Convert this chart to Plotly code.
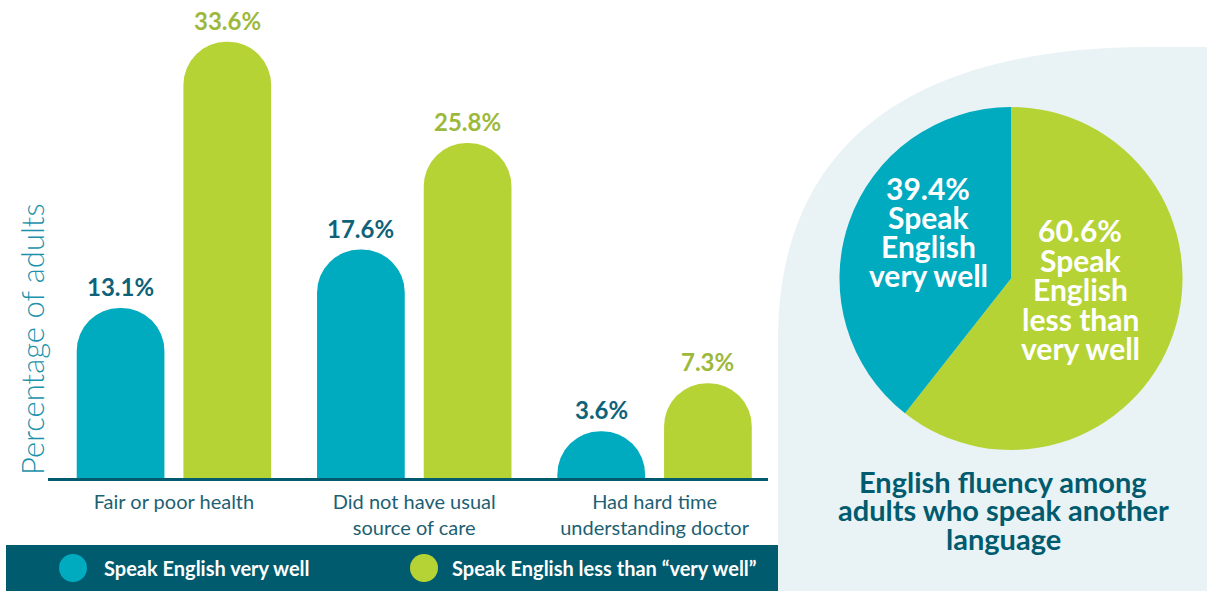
import plotly.graph_objects as go
import numpy as np

# ---------------- data ----------------
categories = ["Fair or poor health",
              "Did not have usual<br>source of care",
              "Had hard time<br>understanding doctor"]
series_names = ["Speak English very well", "Speak English less than \u201cvery well\u201d"]
very_well = [13.1, 17.6, 3.6]
less_than = [33.6, 25.8, 7.3]

pie_labels = ["Speak English less than very well", "Speak English very well"]
pie_values = [60.6, 39.4]
pie_text_lines = [["Speak", "English", "less than", "very well"],
                  ["Speak", "English", "very well"]]
pie_title_lines = ["English fluency among", "adults who speak another", "language"]
y_title = "Percentage of adults"

# ---------------- styles ----------------
W, H = 1207, 591
BLUE = "#00AABF"
GREEN = "#B5D334"
DARK = "#005B6E"
LABEL_DARK = "#0E6279"
LABEL_GREEN = "#9DB93B"
AXIS_TITLE = "#1B92AB"
TICK = "#1E5F73"
PANEL = "#E9F2F5"
FONT = "Lato"


def X(px):
    return px / W


def Y(py):
    return 1 - py / H


idx = np.arange(len(categories))
OFF = 0.222
BW = 0.365
x_blue = idx - OFF
x_green = idx + OFF

fig = go.Figure()
fig.add_trace(go.Bar(x=x_blue, y=very_well, width=BW, name=series_names[0],
                     marker=dict(color=BLUE, cornerradius="50%", line=dict(width=0)),
                     showlegend=False, hoverinfo="y"))
fig.add_trace(go.Bar(x=x_green, y=less_than, width=BW, name=series_names[1],
                     marker=dict(color=GREEN, cornerradius="50%", line=dict(width=0)),
                     showlegend=False, hoverinfo="y"))

annotations = []
for xs, vals, col in [(x_blue, very_well, LABEL_DARK), (x_green, less_than, LABEL_GREEN)]:
    for xv, v in zip(xs, vals):
        annotations.append(dict(x=xv, y=v, xref="x", yref="y", text=f"<b>{v:.1f}%</b>",
                                showarrow=False, yanchor="bottom", yshift=5,
                                font=dict(family=FONT, size=24, color=col)))

# pie
fig.add_trace(go.Pie(labels=pie_labels, values=pie_values, sort=False,
                     direction="clockwise", rotation=0,
                     marker=dict(colors=[GREEN, BLUE], line=dict(width=0)),
                     textinfo="none", showlegend=False,
                     domain=dict(x=[X(839), X(1183)], y=[Y(450), Y(107)])))

# pie labels (tight line spacing -> one annotation per line)
green_lines = [f"{pie_values[0]:.1f}%"] + pie_text_lines[0]
blue_lines = [f"{pie_values[1]:.1f}%"] + pie_text_lines[1]
for i, t in enumerate(blue_lines):
    annotations.append(dict(x=X(928), y=Y(188 + 29 * i), xref="paper", yref="paper",
                            text=f"<b>{t}</b>", showarrow=False,
                            xanchor="center", yanchor="middle",
                            font=dict(family=FONT, size=30, color="white")))
for i, t in enumerate(green_lines):
    annotations.append(dict(x=X(1080), y=Y(230 + 29.5 * i), xref="paper", yref="paper",
                            text=f"<b>{t}</b>", showarrow=False,
                            xanchor="center", yanchor="middle",
                            font=dict(family=FONT, size=30, color="white")))
for i, t in enumerate(pie_title_lines):
    annotations.append(dict(x=X(1003), y=Y(481 + 28.5 * i), xref="paper", yref="paper",
                            text=f"<b>{t}</b>", showarrow=False,
                            xanchor="center", yanchor="middle",
                            font=dict(family=FONT, size=29, color=DARK)))

# y-axis title
annotations.append(dict(x=X(32), y=Y(339), xref="paper", yref="paper", text=y_title,
                        textangle=-90, showarrow=False, xanchor="center", yanchor="middle",
                        font=dict(family=FONT, size=31, color=AXIS_TITLE, weight=300)))

# legend
legend_items = [(73, 102, BLUE, series_names[0]), (424, 450, GREEN, series_names[1])]
shapes = []
# background panel with rounded top-left corner
path = (f"M {X(778)},{Y(591)} L {X(778)},{Y(340)} "
        f"C {X(778)},{Y(130)} {X(930)},{Y(47)} {X(1150)},{Y(47)} "
        f"L {X(1207)},{Y(47)} L {X(1207)},{Y(591)} Z")
shapes.append(dict(type="path", path=path, xref="paper", yref="paper",
                   fillcolor=PANEL, line=dict(width=0), layer="below"))
shapes.append(dict(type="rect", x0=X(6), x1=X(778), y0=Y(591), y1=Y(545),
                   xref="paper", yref="paper", fillcolor=DARK, line=dict(width=0), layer="below"))
for cx, tx, col, name in legend_items:
    r = 14
    shapes.append(dict(type="circle", x0=X(cx - r), x1=X(cx + r), y0=Y(568 + r), y1=Y(568 - r),
                       xref="paper", yref="paper", fillcolor=col, line=dict(width=0)))
    annotations.append(dict(x=X(tx), y=Y(568), xref="paper", yref="paper", text=f"<b>{name}</b>",
                            showarrow=False, xanchor="left", yanchor="middle",
                            font=dict(family=FONT, size=20, color="white")))

fig.update_layout(
    width=W, height=H,
    margin=dict(l=0, r=0, t=0, b=0),
    paper_bgcolor="white",
    plot_bgcolor="rgba(0,0,0,0)",
    barmode="overlay",
    xaxis=dict(domain=[X(48), X(768)], range=[-0.524, 2.472],
               tickvals=list(idx), ticktext=categories,
               showline=True, linecolor=DARK, linewidth=3,
               showgrid=False, zeroline=False, ticks="",
               ticklabelstandoff=4,
               tickfont=dict(family=FONT, size=20, color=TICK)),
    yaxis=dict(domain=[Y(478), Y(10.7)], range=[0, 36], visible=False, showgrid=False),
    annotations=annotations,
    shapes=shapes,
    hovermode=False,
)

fig.write_html("out.html",
               config={"displayModeBar": False, "staticPlot": True},
               post_script="document.body.style.margin='0px';document.body.style.overflow='hidden';")
